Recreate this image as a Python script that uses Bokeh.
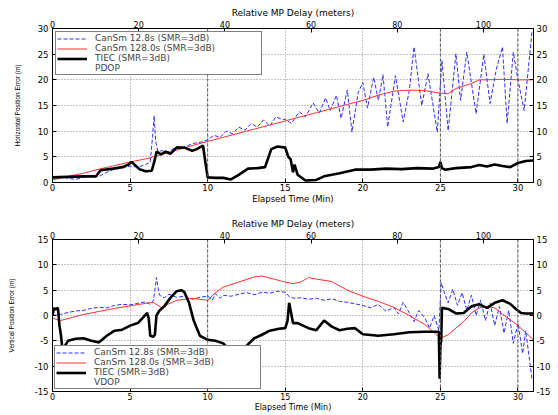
from bokeh.plotting import figure
from bokeh.models import Range1d, LinearAxis, Legend, LegendItem, FixedTicker, Span
from bokeh.layouts import column
from bokeh.embed import file_html
from bokeh.resources import INLINE

# ---------------- data ----------------
MP_PER_MIN = 3.6          # relative multipath delay (m) per elapsed minute
T_MAX = 31
time_ticks = [0, 5, 10, 15, 20, 25, 30]
mp_ticks = [0, 20, 40, 60, 80, 100]
event_times = [10, 25, 30]

hor_ticks = [0, 5, 10, 15, 20, 25, 30]
ver_ticks = [-15, -10, -5, 0, 5, 10, 15]

labels_top = ["CanSm 12.8s (SMR=3dB)", "CanSm 128.0s (SMR=3dB)", "TIEC (SMR=3dB)", "PDOP"]
labels_bot = ["CanSm 12.8s (SMR=3dB)", "CanSm 128.0s (SMR=3dB)", "TIEC (SMR=3dB)", "VDOP"]

# Horizontal error: CanSm 12.8 s
h_fast_t = [0, 0.5, 1.0, 1.5, 2.0, 2.5, 3.0, 3.5, 4.0, 4.5, 5.0, 5.5, 6.0, 6.3, 6.45, 6.55, 6.65, 6.8,
            7.0, 7.5, 8.0, 8.5, 9.0, 9.5, 10.0, 10.4, 10.8, 11.2, 11.6, 12.0, 12.4, 12.8, 13.2, 13.6,
            14.0, 14.4, 14.8, 15.0, 15.4, 15.9, 16.3, 16.8, 17.2, 17.6, 17.9, 18.3, 18.6, 19.0, 19.3,
            19.7, 20.0, 20.3, 20.7, 21.0, 21.3, 21.6, 22.1, 22.6, 23.0, 23.3, 23.8, 24.2, 24.8, 25.1,
            25.5, 26.0, 26.3, 26.7, 27.3, 27.8, 28.2, 28.6, 29.0, 29.3, 29.7, 30.0, 30.4, 30.9]
h_fast_v = [1.0, 1.2, 0.8, 0.6, 1.0, 1.3, 1.2, 2.0, 2.6, 2.8, 3.2, 3.0, 3.5, 4.0, 9.0, 13.0, 8.0, 6.0,
            6.2, 6.0, 7.0, 6.8, 7.6, 7.8, 8.3, 9.2, 8.8, 10.0, 9.5, 10.8, 10.2, 11.5, 10.8, 12.2,
            11.0, 12.8, 12.3, 12.3, 11.5, 13.8, 12.8, 15.5, 13.5, 16.5, 14.0, 17.0, 12.5, 18.0, 9.8,
            17.5, 19.5, 14.5, 20.5, 16.0, 21.0, 10.8, 20.8, 11.8, 18.0, 26.4, 15.0, 21.2, 9.8, 23.8,
            10.1, 25.1, 16.0, 25.4, 13.4, 25.0, 15.4, 22.0, 26.4, 11.5, 25.4, 20.0, 14.0, 29.3]

# Horizontal error: CanSm 128.0 s
h_slow_t = [0, 1, 2, 3, 4, 5, 6, 7, 8, 9, 10, 11, 12, 13, 14, 15, 16, 17, 18, 19, 20, 21, 22, 23,
            24, 25, 25.5, 26, 27, 27.5, 28, 29, 30, 31]
h_slow_v = [0.5, 1.2, 1.8, 2.6, 3.3, 4.0, 4.6, 5.4, 6.3, 7.2, 8.0, 8.8, 9.6, 10.4, 11.2, 12.0, 12.8,
            13.6, 14.4, 15.2, 16.0, 17.0, 17.8, 18.0, 17.9, 17.4, 17.3, 18.3, 19.3, 20.0, 20.0, 20.1,
            20.0, 20.0]

# Horizontal error: TIEC
h_tiec_t = [0, 1, 2, 2.8, 3.1, 3.9, 4.5, 4.9, 5.1, 5.6, 6.0, 6.4, 6.6, 6.7, 7.0, 7.3, 7.6, 8.0, 8.5,
            9.0, 9.3, 9.7, 9.85, 10.0, 10.5, 11.0, 11.5, 12.0, 12.6, 13.2, 13.7, 14.1, 14.5, 15.0,
            15.2, 15.35, 15.5, 15.6, 15.8, 16.3, 17.0, 17.5, 18.5, 19.5, 20.5, 21.5, 22.5, 23.5, 24.5,
            24.9, 25.0, 25.1, 25.3, 26.0, 27.0, 27.5, 28.0, 28.5, 29.0, 29.5, 30.0, 30.5, 31.0]
h_tiec_v = [1.0, 1.1, 1.2, 1.2, 2.4, 2.7, 3.0, 3.5, 4.0, 2.6, 2.2, 2.3, 4.5, 6.0, 5.5, 6.0, 5.6, 6.8,
            6.8, 6.2, 6.5, 7.2, 4.0, 1.0, 0.9, 0.9, 0.6, 1.5, 2.7, 2.8, 3.0, 6.5, 7.0, 6.8, 5.0, 4.5,
            2.0, 3.5, 1.5, 0.4, 0.5, 1.2, 1.8, 2.5, 2.5, 2.7, 2.6, 2.8, 2.7, 3.0, 4.0, 2.8, 2.5, 2.8,
            3.0, 3.4, 3.1, 3.5, 3.2, 3.0, 3.8, 4.2, 4.3]

# Vertical error: CanSm 12.8 s
v_fast_t = [0, 0.5, 1, 1.5, 2, 2.5, 3, 3.5, 4, 4.5, 5, 5.5, 6, 6.3, 6.5, 6.6, 6.7, 6.8, 6.9, 7.2, 7.5,
            8, 8.5, 9, 9.5, 10, 10.3, 10.5, 10.8, 11, 11.5, 12, 12.5, 13, 13.5, 14, 14.5, 15, 15.3,
            15.6, 16, 16.5, 17, 17.5, 18, 18.5, 19, 19.5, 20, 20.5, 21, 21.5, 22, 22.3, 22.6, 23,
            23.3, 23.6, 24, 24.3, 24.6, 24.9, 25.05, 25.2, 25.5, 25.8, 26.1, 26.4, 26.7, 27.0, 27.3,
            27.6, 27.9, 28.2, 28.5, 28.8, 29.1, 29.4, 29.7, 30.0, 30.3, 30.5, 30.9]
v_fast_v = [0.0, 0.2, 0.6, 0.9, 1.0, 1.4, 1.6, 1.5, 2.0, 2.2, 2.1, 2.4, 2.7, 2.2, 3.0, 5.0, 7.5, 5.5,
            4.0, 3.5, 4.2, 3.6, 3.8, 3.2, 3.6, 3.8, 3.0, 4.3, 3.4, 4.0, 3.8, 4.2, 4.5, 4.1, 4.6, 4.4,
            4.8, 4.6, 3.6, 3.4, 3.5, 3.2, 3.4, 3.0, 3.3, 2.8, 2.6, 2.3, 2.0, 1.5, 2.2, 0.8, 1.6, 0.3,
            2.6, 0.5, -1.2, 1.0, -0.5, -2.5, 0.0, -3.0, 6.5, 5.0, 2.5, 5.2, 2.0, 4.5, 1.0, 4.0, 0.0,
            3.0, -1.0, 2.5, -2.0, 1.8, -3.5, 1.0, -5.5, -1.5, -7.5, -3.0, -12.5]

# Vertical error: CanSm 128.0 s
v_slow_t = [0, 0.5, 1, 2, 3, 4, 5, 6, 6.5, 7.0, 7.5, 8, 9, 10, 10.5, 11, 12, 13, 13.5, 14, 15, 15.5,
            16, 16.5, 17, 18, 19, 20, 21, 22, 23, 24, 25, 25.5, 26, 26.5, 27, 27.5, 28, 28.5, 29, 30,
            31]
v_slow_v = [-0.5, -1.0, -0.6, 0.2, 0.8, 1.4, 1.9, 2.4, 2.6, 1.6, 2.3, 3.0, 3.4, 3.0, 4.5, 5.6, 6.6,
            7.6, 7.8, 7.4, 6.6, 6.3, 6.6, 7.5, 7.2, 6.7, 5.0, 3.8, 2.8, 1.6, 0.0, -1.8, -4.5, -3.8,
            -2.5, -1.2, 0.5, 1.5, 1.8, 1.5, 0.3, -2.0, -4.8]

# Vertical error: TIEC
v_tiec_t = [0, 0.1, 0.2, 0.35, 0.45, 0.55, 0.65, 0.8, 1.0, 1.5, 2.0, 2.5, 3.0, 3.5, 4.0, 4.5, 5.0,
            5.5, 5.8, 6.1, 6.2, 6.3, 6.5, 6.6, 6.7, 6.9, 7.2, 7.6, 8.0, 8.3, 8.5, 8.8, 9.1, 9.5, 10.0,
            10.5, 11.0, 11.5, 12.0, 12.5, 13.0, 13.5, 14.0, 14.6, 15.0, 15.15, 15.25, 15.35, 15.5,
            15.8, 16.5, 17.0, 17.5, 18.0, 18.5, 19.0, 19.5, 20.0, 21.0, 22.0, 23.0, 24.0, 24.9,
            24.95, 25.0, 25.05, 25.1, 25.5, 26.0, 26.5, 27.0, 27.5, 28.0, 28.5, 29.0, 29.5, 29.9,
            30.2, 30.5, 31.0]
v_tiec_v = [0.0, 1.5, 1.2, 1.5, -2.0, -4.0, -7.0, -6.0, -5.0, -4.6, -4.5, -5.0, -5.3, -4.0, -3.0,
            -2.8, -2.0, -1.5, -0.5, 0.5, -0.5, -4.0, -4.2, -3.8, 0.0, 1.0, 1.8, 3.5, 4.8, 5.0, 4.6,
            2.5, -1.0, -4.0, -4.8, -5.0, -5.5, -7.0, -6.5, -6.0, -4.5, -3.8, -3.0, -2.6, -2.5, -1.0,
            2.5, 1.0, -1.5, -1.5, -2.5, -2.9, -1.0, -2.2, -2.9, -2.6, -2.5, -3.7, -4.0, -3.7, -3.3,
            -3.2, -3.2, -12.5, -6.0, -5.0, 1.5, 1.3, 0.4, 0.5, 1.8, 2.2, 1.5, 2.5, 3.0, 2.3, 1.2,
            0.5, 0.4, 0.4]

# ---------------- styling ----------------
FONT = "DejaVu Sans"
BLUE = "#3030ff"
RED = "#ff3030"


def style_axis(ax, standoff_label, size="8.5px"):
    ax.axis_line_color = "black"
    ax.major_tick_line_color = "black"
    ax.major_tick_in = 4
    ax.major_tick_out = 0
    ax.minor_tick_in = 0
    ax.minor_tick_out = 0
    ax.major_label_text_font = FONT
    ax.major_label_text_font_size = size
    ax.major_label_text_color = "black"
    ax.major_label_standoff = standoff_label
    ax.axis_label_text_font = FONT
    ax.axis_label_text_font_style = "normal"
    ax.axis_label_text_color = "black"


def make_panel(height, ylim, yticks, ylabel, ylabel_standoff, series, labels,
               border_top, border_bottom, legend_loc, legend_margin, bottom_size):
    p = figure(width=558, height=height, x_range=Range1d(0, T_MAX), y_range=Range1d(*ylim),
               output_backend="svg", toolbar_location=None,
               min_border_left=52, min_border_right=25,
               min_border_top=border_top, min_border_bottom=border_bottom)
    p.outline_line_color = "black"
    p.background_fill_color = "white"
    p.border_fill_color = "white"

    p.extra_x_ranges = {"mp": Range1d(0, T_MAX * MP_PER_MIN)}

    xa = p.xaxis[0]
    xa.ticker = FixedTicker(ticks=time_ticks)
    xa.axis_label = "Elapsed Time (Min)"
    style_axis(xa, 1, bottom_size)
    xa.axis_label_text_font_size = bottom_size
    xa.axis_label_standoff = 0

    ya = p.yaxis[0]
    ya.ticker = FixedTicker(ticks=yticks)
    ya.major_label_overrides = {t: str(t) for t in yticks}
    ya.axis_label = ylabel
    style_axis(ya, 4)
    ya.axis_label_text_font = "Liberation Sans"
    ya.axis_label_text_font_size = "6.5px"
    ya.axis_label_standoff = ylabel_standoff

    ra = LinearAxis(ticker=FixedTicker(ticks=yticks))
    ra.major_label_overrides = {t: str(t) for t in yticks}
    style_axis(ra, 3)
    p.add_layout(ra, "right")

    ta = LinearAxis(x_range_name="mp", ticker=FixedTicker(ticks=mp_ticks),
                    axis_label="Relative MP Delay (meters)")
    style_axis(ta, 1, "8px")
    ta.axis_label_text_font_size = "9px"
    ta.axis_label_standoff = 0
    p.add_layout(ta, "above")

    p.xgrid.ticker = FixedTicker(ticks=time_ticks)
    p.ygrid.ticker = FixedTicker(ticks=yticks)
    for g in (p.xgrid[0], p.ygrid[0]):
        g.grid_line_color = "#8a8a8a"
        g.grid_line_dash = "1 2"
        g.grid_line_width = 1

    for et in event_times:
        p.add_layout(Span(location=et, dimension="height", line_color="#555555",
                          line_dash="3 2", line_width=1))

    (ft, fv), (st, sv), (tt, tv) = series
    r_fast = p.line(ft, fv, line_color=BLUE, line_width=1, line_dash="4 2")
    r_slow = p.line(st, sv, line_color=RED, line_width=1)
    r_tiec = p.line(tt, tv, line_color="black", line_width=2.6)
    r_dop = p.line(x=[], y=[], line_color="black", line_width=1, line_dash="1 2")

    legend = Legend(items=[LegendItem(label=labels[0], renderers=[r_fast]),
                           LegendItem(label=labels[1], renderers=[r_slow]),
                           LegendItem(label=labels[2], renderers=[r_tiec]),
                           LegendItem(label=labels[3], renderers=[r_dop])],
                    location=legend_loc, margin=legend_margin, padding=1, spacing=0,
                    label_text_font=FONT, label_text_font_size="9px",
                    label_text_line_height=0.85, label_height=9, glyph_height=9,
                    glyph_width=30, label_standoff=8, label_width=165,
                    border_line_color="black", border_line_width=1,
                    background_fill_color="white", background_fill_alpha=1.0)
    p.add_layout(legend, "center")
    return p


top = make_panel(208, (0, 30), hor_ticks, "Horizontal Position Error (m)", 14,
                 [(h_fast_t, h_fast_v), (h_slow_t, h_slow_v), (h_tiec_t, h_tiec_v)],
                 labels_top, 28, 26, "top_left", 3, "8.5px")
bottom = make_panel(206, (-15, 15), ver_ticks, "Vertical Position Error (m)", 17,
                    [(v_fast_t, v_fast_v), (v_slow_t, v_slow_v), (v_tiec_t, v_tiec_v)],
                    labels_bot, 31, 13, "bottom_left", 2, "8px")

layout = column(top, bottom, spacing=0)
open("out.html", "w").write(file_html(layout, INLINE))
